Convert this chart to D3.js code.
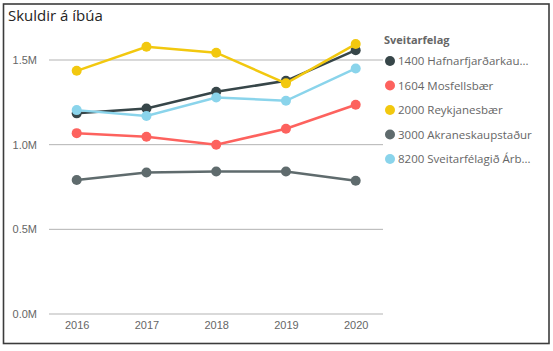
<!DOCTYPE html>
<html>
<head>
<meta charset="utf-8">
<script src="https://cdn.jsdelivr.net/npm/d3@7"></script>
<style>
  body { margin:0; background:#fff; }
  svg { display:block; font-family:"Open Sans", "Segoe UI", sans-serif; }
</style>
</head>
<body>
<div id="chart"></div>
<script>
// Data
const years = [2016, 2017, 2018, 2019, 2020];
const seriesNames = ["1400 Hafnarfjarðarkau...", "1604 Mosfellsbær", "2000 Reykjanesbær", "3000 Akraneskaupstaður", "8200 Sveitarfélagið Árb..."];
const seriesColors = ["#374649", "#FD625E", "#F2C80F", "#5F6B6D", "#8AD4EB"];
const hafnarfjordur = [1185000, 1214000, 1312000, 1377000, 1558000];
const mosfellsbaer = [1068000, 1047000, 999000, 1094000, 1236000];
const reykjanesbaer = [1436000, 1578000, 1543000, 1362000, 1594000];
const akranes = [791000, 836000, 842000, 842000, 787000];
const arborg = [1204000, 1169000, 1279000, 1259000, 1450000];
const yTicks = [0, 500000, 1000000, 1500000];

const allSeries = [hafnarfjordur, mosfellsbaer, reykjanesbaer, akranes, arborg];

const W = 553, H = 351;
const svg = d3.select("#chart").append("svg").attr("width", W).attr("height", H);

// frame
svg.append("rect")
    .attr("x", 3.5).attr("y", 4).attr("width", 545.5).attr("height", 339.5)
    .attr("fill", "#fff").attr("stroke", "#3c3c3c").attr("stroke-width", 1.6);

svg.append("text")
    .attr("x", 8).attr("y", 21)
    .style("font-size", "15px").attr("fill", "#252423")
    .text("Skuldir á íbúa");

const plot = { left: 49, right: 383, top: 30, bottom: 314 };

const x = d3.scalePoint().domain(years).range([76.7, 355.7]);
const y = d3.scaleLinear().domain([0, 1500000]).range([plot.bottom, 60]);

// gridlines
const grid = svg.append("g");
grid.selectAll("line").data(yTicks).join("line")
    .attr("x1", plot.left).attr("x2", plot.right)
    .attr("y1", d => y(d)).attr("y2", d => y(d))
    .attr("stroke", "#b3b3b3").attr("stroke-width", 1);

// y axis labels
const yAxis = svg.append("g").attr("transform", `translate(37,0)`)
    .call(d3.axisLeft(y).tickValues(yTicks).tickSize(0).tickPadding(0)
        .tickFormat(d => (d / 1e6).toFixed(1) + "M"));
yAxis.select(".domain").remove();
yAxis.selectAll("text").style("font-size", "11px").attr("fill", "#666").attr("font-family", null);

// x axis labels
const xAxis = svg.append("g").attr("transform", `translate(0,${plot.bottom})`)
    .call(d3.axisBottom(x).tickSize(0).tickPadding(7));
xAxis.select(".domain").remove();
xAxis.selectAll("text").style("font-size", "11px").attr("fill", "#666").attr("font-family", null);

const line = d3.line().x((d, i) => x(years[i])).y(d => y(d));

allSeries.forEach((vals, s) => {
    const g = svg.append("g");
    g.append("path").datum(vals)
        .attr("d", line)
        .attr("fill", "none")
        .attr("stroke", seriesColors[s])
        .attr("stroke-width", 2.5);
    g.selectAll("circle").data(vals).join("circle")
        .attr("cx", (d, i) => x(years[i]))
        .attr("cy", d => y(d))
        .attr("r", 5)
        .attr("fill", seriesColors[s]);
});

// legend
const legend = svg.append("g");
legend.append("text")
    .attr("x", 384).attr("y", 44)
    .style("font-size", "11px").style("font-weight", "bold").attr("fill", "#666")
    .text("Sveitarfelag");
const items = legend.selectAll("g.item").data(seriesNames).join("g")
    .attr("class", "item")
    .attr("transform", (d, i) => `translate(390,${61 + i * 24.5})`);
items.append("circle").attr("r", 5).attr("fill", (d, i) => seriesColors[i]);
items.append("text")
    .attr("x", 8).attr("dy", "0.35em")
    .style("font-size", "11.5px").attr("fill", "#666")
    .text(d => d);
</script>
</body>
</html>
